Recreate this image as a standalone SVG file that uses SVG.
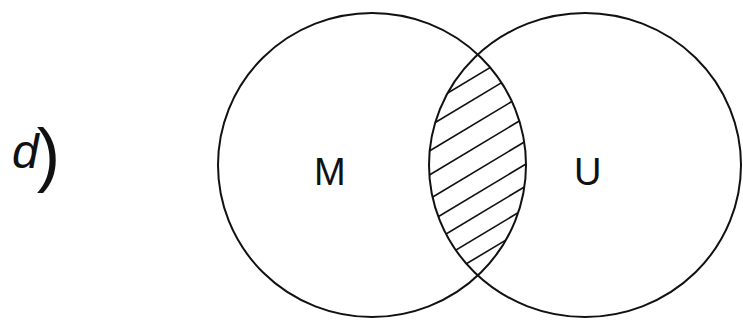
<svg xmlns="http://www.w3.org/2000/svg" width="743" height="329" viewBox="0 0 743 329">
<style>
.set{fill:none;stroke:#111;stroke-width:2}
.hatch{stroke:#111;stroke-width:1.6;fill:none}
.lbl{font-family:"Liberation Sans",Arial,sans-serif;fill:#111;font-weight:normal}
</style>
<defs>
<clipPath id="lensL"><ellipse cx="372" cy="165" rx="154" ry="152"/></clipPath>
<clipPath id="lensR"><ellipse cx="585" cy="165" rx="156" ry="152"/></clipPath>
</defs>
<rect width="743" height="329" fill="#fff"/>
<g id="label-d">
<text class="lbl" x="12" y="168" font-size="48"><tspan font-style="italic">d</tspan><tspan font-size="70" dx="-2" dy="10">)</tspan></text>
</g>
<g id="intersection">
<g clip-path="url(#lensL)"><g clip-path="url(#lensR)">
<line class="hatch" x1="400" y1="121.6" x2="560" y2="25.6"/>
<line class="hatch" x1="400" y1="143.6" x2="560" y2="47.6"/>
<line class="hatch" x1="400" y1="168.6" x2="560" y2="72.6"/>
<line class="hatch" x1="400" y1="192.6" x2="560" y2="96.6"/>
<line class="hatch" x1="400" y1="216.6" x2="560" y2="120.6"/>
<line class="hatch" x1="400" y1="239.6" x2="560" y2="143.6"/>
<line class="hatch" x1="400" y1="261.6" x2="560" y2="165.6"/>
<line class="hatch" x1="400" y1="283.6" x2="560" y2="187.6"/>
<line class="hatch" x1="400" y1="303.6" x2="560" y2="207.6"/>
</g></g>
</g>
<g id="set-M">
<ellipse class="set" cx="372" cy="165" rx="154" ry="152"/>
<text class="lbl" x="314" y="185" font-size="38">M</text>
</g>
<g id="set-U">
<ellipse class="set" cx="585" cy="165" rx="156" ry="152"/>
<text class="lbl" x="574" y="185" font-size="38">U</text>
</g>
</svg>
